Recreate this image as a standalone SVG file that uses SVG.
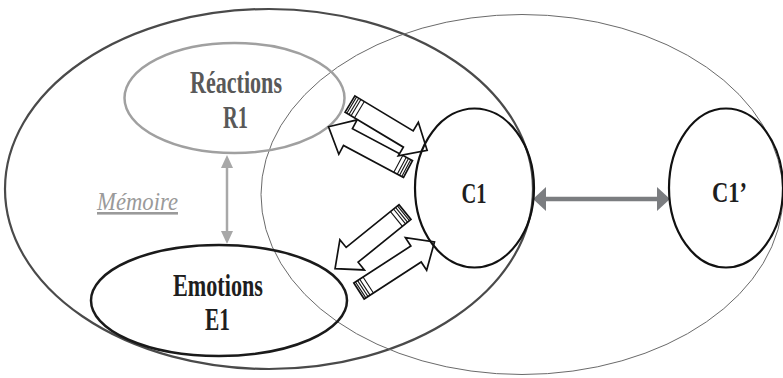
<svg xmlns="http://www.w3.org/2000/svg" xmlns:xlink="http://www.w3.org/1999/xlink" width="783" height="378" viewBox="0 0 783 378">
  <style>
    .lbl { font-family: "Liberation Serif", "Times New Roman", serif; font-weight: bold; }
    .memo { font-family: "Liberation Serif", "Times New Roman", serif; font-style: italic; font-size: 26px; fill: #9a9a9a; }
    .blk-body { fill: #ffffff; stroke: #111111; stroke-width: 1.7; stroke-linejoin: miter; }
    .blk-stripe { stroke: #111111; stroke-width: 1.1; }
  </style>
  <defs>
    <marker id="mGrayDark" markerUnits="userSpaceOnUse" viewBox="0 0 13 24" markerWidth="13" markerHeight="24" refX="8" refY="12" orient="auto-start-reverse">
      <path d="M0,0 L13,12 L0,24 Z" fill="#7b7d80"/>
    </marker>
    <marker id="mGrayLight" markerUnits="userSpaceOnUse" viewBox="0 0 13 12" markerWidth="13" markerHeight="12" refX="8" refY="6" orient="auto-start-reverse">
      <path d="M0,0 L13,6 L0,12 Z" fill="#a8a8a8"/>
    </marker>
    <g id="blk">
      <path class="blk-body" d="M0,-9.5 L68,-9.5 L68,-19.5 L90,0 L68,19.5 L68,9.5 L0,9.5 Z"/>
      <line class="blk-stripe" x1="2" y1="-9.5" x2="2" y2="9.5"/>
      <line class="blk-stripe" x1="4.5" y1="-9.5" x2="4.5" y2="9.5"/>
      <line class="blk-stripe" x1="7" y1="-9.5" x2="7" y2="9.5"/>
      <line class="blk-stripe" x1="11" y1="-9.5" x2="11" y2="9.5"/>
    </g>
  </defs>

  <rect width="783" height="378" fill="#ffffff"/>

  <g id="memoire-zone">
    <ellipse cx="269" cy="189" rx="264" ry="180" fill="none" stroke="#4a4a4a" stroke-width="2.2"/>
    <text class="memo" x="97" y="210" textLength="81" lengthAdjust="spacingAndGlyphs" text-decoration="underline">Mémoire</text>
  </g>

  <g id="c1-zone">
    <ellipse cx="522" cy="194.5" rx="261" ry="180" fill="none" stroke="#6a6a6a" stroke-width="1"/>
  </g>

  <g id="node-reactions">
    <ellipse cx="234.5" cy="98" rx="110" ry="55" fill="none" stroke="#a0a0a0" stroke-width="2.5"/>
    <text class="lbl" x="190" y="93" font-size="31" fill="#595959" textLength="92" lengthAdjust="spacingAndGlyphs">Réactions</text>
    <text class="lbl" x="223" y="128" font-size="31" fill="#595959" textLength="25" lengthAdjust="spacingAndGlyphs">R1</text>
  </g>

  <g id="node-emotions">
    <ellipse cx="219" cy="300.5" rx="128" ry="55.5" fill="none" stroke="#1a1a1a" stroke-width="2.5"/>
    <text class="lbl" x="173" y="296" font-size="31" fill="#1e1e1e" textLength="90" lengthAdjust="spacingAndGlyphs">Emotions</text>
    <text class="lbl" x="205" y="330" font-size="31" fill="#1e1e1e" textLength="25" lengthAdjust="spacingAndGlyphs">E1</text>
  </g>

  <g id="connectors">
    <line x1="227" y1="160" x2="227" y2="239" stroke="#a8a8a8" stroke-width="2.5" marker-start="url(#mGrayLight)" marker-end="url(#mGrayLight)"/>
    <line x1="538" y1="199" x2="665" y2="199" stroke="#7b7d80" stroke-width="4.5" marker-start="url(#mGrayDark)" marker-end="url(#mGrayDark)"/>
    <use xlink:href="#blk" href="#blk" transform="translate(408,169) rotate(208)"/>
    <use xlink:href="#blk" href="#blk" transform="translate(350,104) rotate(31)"/>
    <use xlink:href="#blk" href="#blk" transform="translate(405,212) rotate(141)"/>
    <use xlink:href="#blk" href="#blk" transform="translate(359,291) rotate(-33)"/>
  </g>

  <g id="node-c1">
    <ellipse cx="474.5" cy="188" rx="59.5" ry="79.5" fill="none" stroke="#111111" stroke-width="2.2"/>
    <text class="lbl" x="461.5" y="203" font-size="29" fill="#1e1e1e" textLength="25" lengthAdjust="spacingAndGlyphs">C1</text>
  </g>

  <g id="node-c1prime">
    <ellipse cx="726" cy="188" rx="57" ry="79.5" fill="none" stroke="#111111" stroke-width="2.2"/>
    <text class="lbl" x="712" y="202" font-size="29" fill="#1e1e1e" textLength="35" lengthAdjust="spacingAndGlyphs">C1’</text>
  </g>
</svg>
